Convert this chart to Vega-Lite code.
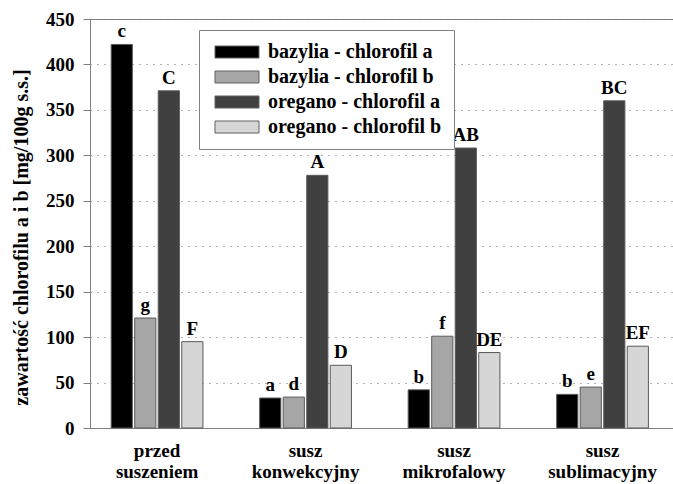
{
  "$schema": "https://vega.github.io/schema/vega-lite/v6.json",
  "width": 583,
  "height": 409,
  "autosize": {"type": "none"},
  "padding": {"left": 90, "top": 19, "right": 0, "bottom": 56},
  "background": "white",
  "config": {
    "view": {"stroke": "#808080", "strokeWidth": 1},
    "font": "Liberation Serif"
  },
  "data": {
    "values": [
      {"grupa": "przed suszeniem", "seria": "bazylia - chlorofil a", "wartosc": 422, "litera": "c"},
      {"grupa": "przed suszeniem", "seria": "bazylia - chlorofil b", "wartosc": 121, "litera": "g"},
      {"grupa": "przed suszeniem", "seria": "oregano - chlorofil a", "wartosc": 371, "litera": "C"},
      {"grupa": "przed suszeniem", "seria": "oregano - chlorofil b", "wartosc": 95, "litera": "F"},
      {"grupa": "susz konwekcyjny", "seria": "bazylia - chlorofil a", "wartosc": 33, "litera": "a"},
      {"grupa": "susz konwekcyjny", "seria": "bazylia - chlorofil b", "wartosc": 34, "litera": "d"},
      {"grupa": "susz konwekcyjny", "seria": "oregano - chlorofil a", "wartosc": 278, "litera": "A"},
      {"grupa": "susz konwekcyjny", "seria": "oregano - chlorofil b", "wartosc": 69, "litera": "D"},
      {"grupa": "susz mikrofalowy", "seria": "bazylia - chlorofil a", "wartosc": 42, "litera": "b"},
      {"grupa": "susz mikrofalowy", "seria": "bazylia - chlorofil b", "wartosc": 101, "litera": "f"},
      {"grupa": "susz mikrofalowy", "seria": "oregano - chlorofil a", "wartosc": 308, "litera": "AB"},
      {"grupa": "susz mikrofalowy", "seria": "oregano - chlorofil b", "wartosc": 83, "litera": "DE"},
      {"grupa": "susz sublimacyjny", "seria": "bazylia - chlorofil a", "wartosc": 37, "litera": "b"},
      {"grupa": "susz sublimacyjny", "seria": "bazylia - chlorofil b", "wartosc": 45, "litera": "e"},
      {"grupa": "susz sublimacyjny", "seria": "oregano - chlorofil a", "wartosc": 360, "litera": "BC"},
      {"grupa": "susz sublimacyjny", "seria": "oregano - chlorofil b", "wartosc": 90, "litera": "EF"}
    ]
  },
  "encoding": {
    "x": {
      "field": "grupa",
      "type": "nominal",
      "sort": ["przed suszeniem", "susz konwekcyjny", "susz mikrofalowy", "susz sublimacyjny"],
      "scale": {"paddingInner": 0.36, "paddingOuter": 0.143, "align": 0.46},
      "axis": {
        "title": null,
        "labelAngle": 0,
        "labelExpr": "split(datum.label, ' ')",
        "labelFont": "Liberation Serif",
        "labelFontWeight": "bold",
        "labelFontSize": 19,
        "labelColor": "black",
        "labelLineHeight": 21,
        "labelBaseline": "top",
        "labelPadding": 13,
        "ticks": false,
        "tickSize": 0,
        "domainColor": "#808080",
        "grid": false
      }
    },
    "xOffset": {
      "field": "seria",
      "sort": ["bazylia - chlorofil a", "bazylia - chlorofil b", "oregano - chlorofil a", "oregano - chlorofil b"],
      "scale": {"paddingInner": 0.1, "paddingOuter": 0.07}
    },
    "y": {
      "field": "wartosc",
      "type": "quantitative",
      "scale": {"domain": [0, 450], "nice": false},
      "axis": {
        "title": "zawartość chlorofilu a i b [mg/100g s.s.]",
        "values": [0, 50, 100, 150, 200, 250, 300, 350, 400, 450],
        "grid": true,
        "gridDash": [1, 6],
        "gridColor": "#666666",
        "domainColor": "#808080",
        "tickColor": "#808080",
        "tickSize": 7,
        "labelPadding": 9,
        "labelFont": "Liberation Serif",
        "labelFontWeight": "bold",
        "labelFontSize": 19,
        "labelColor": "black",
        "titleFont": "Liberation Serif",
        "titleFontWeight": "bold",
        "titleFontSize": 20,
        "titleColor": "black",
        "titlePadding": 14,
        "titleY": 218
      }
    }
  },
  "layer": [
    {
      "mark": {"type": "bar", "stroke": "#5a5a5a", "strokeWidth": 1},
      "encoding": {
        "color": {
          "field": "seria",
          "type": "nominal",
          "sort": ["bazylia - chlorofil a", "bazylia - chlorofil b", "oregano - chlorofil a", "oregano - chlorofil b"],
          "scale": {
            "domain": ["bazylia - chlorofil a", "bazylia - chlorofil b", "oregano - chlorofil a", "oregano - chlorofil b"],
            "range": ["#000000", "#a6a6a6", "#404040", "#d6d6d6"]
          },
          "legend": {
            "orient": "none",
            "legendX": 109,
            "legendY": 11,
            "title": null,
            "strokeColor": "#808080",
            "fillColor": "white",
            "padding": 12,
            "symbolType": "M-1,-1H6.333V1H-1Z",
            "symbolSize": 144,
            "symbolStrokeColor": "#606060",
            "symbolStrokeWidth": 1,
            "symbolOpacity": 1,
            "labelFont": "Liberation Serif",
            "labelFontWeight": "bold",
            "labelFontSize": 20,
            "labelColor": "black",
            "labelOffset": 37,
            "labelLimit": 400,
            "rowPadding": 5
          }
        }
      }
    },
    {
      "mark": {
        "type": "text",
        "font": "Liberation Serif",
        "fontWeight": "bold",
        "fontSize": 19,
        "baseline": "alphabetic",
        "dy": -7,
        "color": "black"
      },
      "encoding": {
        "text": {"field": "litera"}
      }
    }
  ]
}
